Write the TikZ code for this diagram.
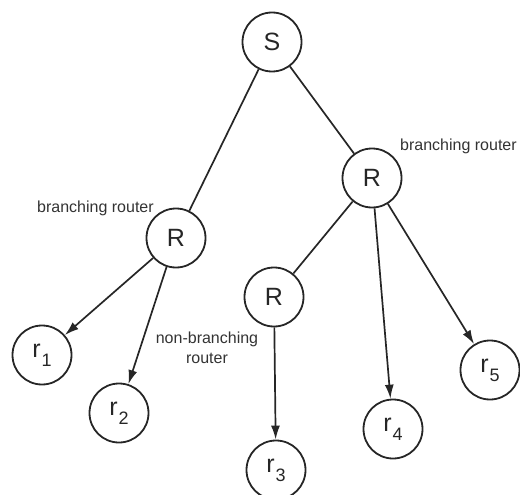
\documentclass[tikz,border=0pt]{standalone}
\usepackage{fontspec}
\setmainfont{Liberation Sans}
\usetikzlibrary{arrows.meta}

% receiver label: upright r with a lowered numeral
\newcommand{\recv}[1]{{\fontsize{25}{25}\selectfont r}\kern1pt\raisebox{-9pt}{\fontsize{18}{18}\selectfont #1}}

\tikzset{
  netnode/.style={circle, draw=black!85, line width=1.8pt, minimum size=59pt, inner sep=0pt,
                  font=\fontsize{25}{25}\selectfont, text=black!85},
  link/.style={draw=black!85, line width=1.7pt},
  feed/.style={link, -{Latex[length=14pt,width=9pt]}},
  note/.style={font=\fontsize{16}{20}\selectfont, text=black!80, inner sep=0pt}
}

\begin{document}
\begin{tikzpicture}[x=1pt, y=-1pt]
  \useasboundingbox (0,0) rectangle (520,495);

  % source, routers and receivers
  \node[netnode] (S)  at (272,42)  {S};
  \node[netnode] (Rr) at (372,178) {R};
  \node[netnode] (Rl) at (176,238) {R};
  \node[netnode] (Rm) at (274,297) {R};
  \node[netnode] (r1) at (42,355)  {\recv{1}};
  \node[netnode] (r2) at (119,413) {\recv{2}};
  \node[netnode] (r3) at (276,470) {\recv{3}};
  \node[netnode] (r4) at (393,429) {\recv{4}};
  \node[netnode] (r5) at (490,370) {\recv{5}};

  % tree links
  \draw[link] (S) -- (Rl);
  \draw[link] (S) -- (Rr);
  \draw[link] (Rr) -- (Rm);
  \draw[feed] (Rr) -- (r4);
  \draw[feed] (Rr) -- (r5);
  \draw[feed] (Rl) -- (r1);
  \draw[feed] (Rl) -- (r2);
  \draw[feed] (Rm) -- (r3);

  % annotations
  \node[note, anchor=base west] (lbl1) at (37,212)  {branching router};
  \node[note, anchor=base west] (lbl2) at (400,150) {branching router};
  \node[note, align=center] (lbl3) at (207,348) {non-branching\\router};
\end{tikzpicture}
\end{document}
